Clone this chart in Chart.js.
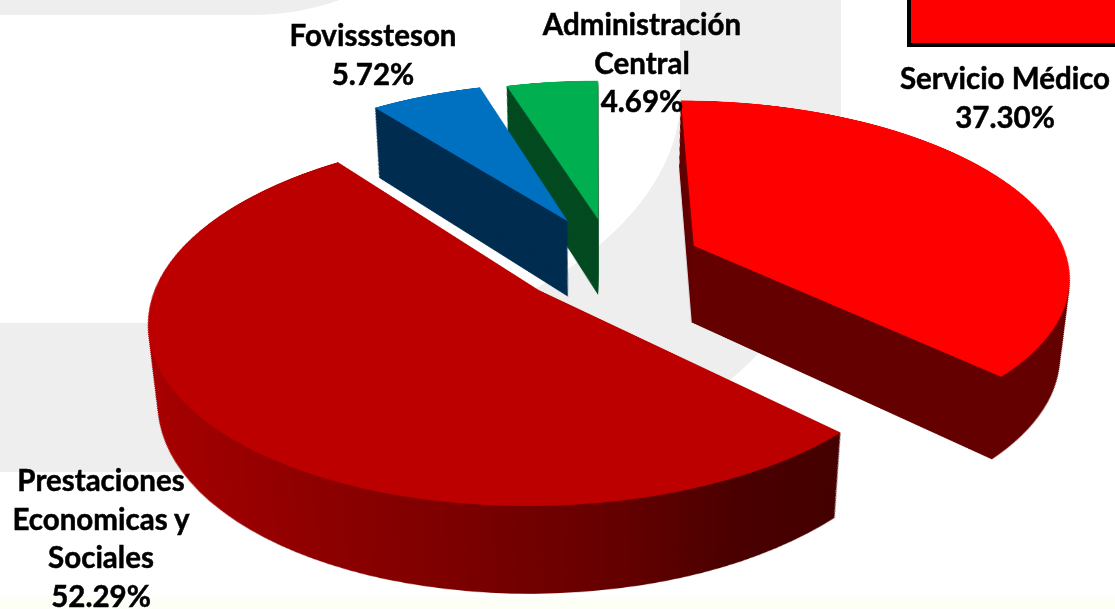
<!DOCTYPE html>
<html>
<head>
<meta charset="utf-8">
<script src="https://cdn.jsdelivr.net/npm/chart.js@4"></script>
<style>
  html, body { margin: 0; padding: 0; background: #fff; }
  #page { position: relative; width: 1115px; height: 609px; overflow: hidden; background: #fff; }
  #bg { position: absolute; left: 0; top: 0; }
  #pie { position: absolute; left: 0; top: 0; transform-origin: 0 0; }
  #swatch { position: absolute; left: 907px; top: -6px; width: 220px; height: 45px; background: #ff0000; border: 4px solid #000; }
  .lbl { position: absolute; transform: translateX(-50%); text-align: center; white-space: pre; color: #000;
         font: bold 29.5px/38.7px Lato, sans-serif; -webkit-text-stroke: 0.5px #000; }
</style>
</head>
<body>
<div id="page">
  <svg id="bg" width="1115" height="609">
    <rect x="0" y="597" width="1115" height="12" fill="#fdfef6"/>
    <path d="M0,0 H340 C310,10 285,15 250,15 H0 Z" fill="#eeeeee"/>
    <path d="M680,0 H841 V160 C841,240 800,322 730,380 L560,472 H0 V323 H430 C540,310 680,210 680,100 Z" fill="#eeeeee"/>
  </svg>
  <canvas id="pie" width="1400" height="1400"></canvas>
  <div id="swatch"></div>
</div>
<script>
var categories = ['Servicio Médico', 'Prestaciones\nEconomicas y\nSociales', 'Fovisssteson', 'Administración\nCentral'];
var shares = [37.30, 52.29, 5.72, 4.69];
var topColors = ['#ff0000', '#bc0000', '#0070c0', '#00b050'];
var sideColors = ['#640000', null, '#002c50', '#034a20'];

// where each slice was pulled out to, in pie radii on the flat plane
var pullX = [0.262, -0.152, -0.081, 0.003];
var pullY = [-0.254, 0, -0.403, -0.415];
var drawOrder = [3, 2, 0, 1];

// flat plane -> screen
var C = 700, R = 400;
var scrX = 597, scrY = 290, scaleX = 384, scaleY = 181.5, persp = -0.16;

// depth of the slab
var depthSteps = 90, shrinkX = 0.085, shrinkY = 0.086, dropY = 0.406;

function labelPos(i) {
  return [[1005, 59], [101, 461], [373, 16], [642, 5]][i];
}

var slab = {
  id: 'slab',
  beforeDatasetDraw: function () { return false; },
  afterDatasetsDraw: function (chart) {
    var ctx = chart.ctx;
    var arcs = chart.getDatasetMeta(0).data;

    var grad = ctx.createLinearGradient(300, 0, 990, 0);
    grad.addColorStop(0, '#aa0000');
    grad.addColorStop(0.2, '#980000');
    grad.addColorStop(0.45, '#800000');
    grad.addColorStop(0.7, '#640000');
    grad.addColorStop(0.85, '#4a0000');
    grad.addColorStop(1, '#440000');

    drawOrder.forEach(function (i) {
      var arc = arcs[i];
      var base = arc.options;
      for (var s = depthSteps; s >= 0; s--) {
        var t = s / depthSteps;
        var sx = 1 - shrinkX * t, sy = 1 - shrinkY * t;
        var opts = Object.create(base);
        opts.backgroundColor = s === 0 ? topColors[i] : (sideColors[i] || grad);
        arc.options = opts;
        ctx.save();
        ctx.transform(sx, 0, 0, sy,
          C - C * sx + R * pullX[i] * sx,
          C - C * sy + R * pullY[i] * sy + R * dropY * t);
        arc.draw(ctx);
        ctx.restore();
      }
      arc.options = base;
    });
  }
};

var canvas = document.getElementById('pie');
var pieChart = new Chart(canvas.getContext('2d'), {
  type: 'pie',
  data: {
    labels: categories,
    datasets: [{
      data: shares,
      backgroundColor: topColors,
      borderWidth: 0
    }]
  },
  options: {
    responsive: false,
    animation: false,
    events: [],
    layout: { padding: C - R },
    plugins: { legend: { display: false }, tooltip: { enabled: false } }
  },
  plugins: [slab]
});

// tilt the canvas so the round pie lies flat
var g = persp / R, a = scaleX / R, e = scaleY / R, w0 = 1 - C * g;
canvas.style.transform = 'matrix3d(' + [
  a, 0, 0, 0,
  scrX * g, e + scrY * g, 0, g,
  0, 0, 1, 0,
  scrX * w0 - C * a, scrY * w0 - C * e, 0, w0
].join(',') + ')';

categories.forEach(function (name, i) {
  var div = document.createElement('div');
  div.className = 'lbl';
  div.style.left = labelPos(i)[0] + 'px';
  div.style.top = labelPos(i)[1] + 'px';
  div.textContent = name + '\n' + shares[i].toFixed(2) + '%';
  document.getElementById('page').appendChild(div);
});
</script>
</body>
</html>
